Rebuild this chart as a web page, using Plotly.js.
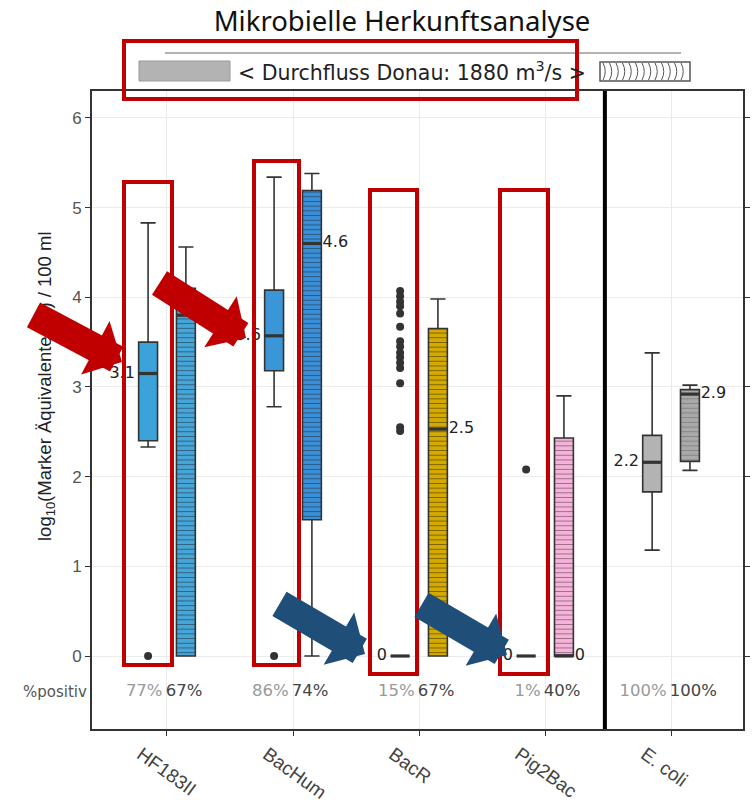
<!DOCTYPE html>
<html><head><meta charset="utf-8">
<script src="https://cdn.plot.ly/plotly-3.0.1.min.js"></script>
<style>html,body{margin:0;padding:0;background:#fff}</style>
</head><body>
<div id="chart" style="width:756px;height:804px"></div>
<script>
// ---------- data ----------
const categories = ['HF183II', 'BacHum', 'BacR', 'Pig2Bac', 'E. coli'];

// left series (solid boxes)
const lowL  = [2.33, 2.78, 0, 0, 1.18];
const q1L   = [2.40, 3.18, 0, 0, 1.83];
const medL  = [3.15, 3.57, 0, 0, 2.16];
const q3L   = [3.50, 4.08, 0, 0, 2.46];
const highL = [4.83, 5.34, 0, 0, 3.38];
const medLabelL = ['3.1', '3.6', '0', '0', '2.2'];
const pctL = ['77%', '86%', '15%', '1%', '100%'];
const colorL = ['#3ba3d9', '#3a96d6', '#d4aa00', '#f2a7d0', '#b3b3b3'];

// right series (patterned boxes)
const lowR  = [0, 0, 0, 0, 2.07];
const q1R   = [0, 1.52, 0, 0, 2.17];
const medR  = [3.80, 4.60, 2.53, 0, 2.92];
const q3R   = [4.10, 5.19, 3.65, 2.43, 2.97];
const highR = [4.56, 5.38, 3.98, 2.90, 3.02];
const medLabelR = ['3.8', '4.6', '2.5', '0', '2.9'];
const pctR = ['67%', '74%', '67%', '40%', '100%'];
const colorR = ['#46a6d8', '#3a8fd8', '#d4aa00', '#f4b3d8', '#a9a9a9'];
const patternFg = ['#1e2f3f', '#1e2f3f', '#3a3000', '#5a3a4a', '#6a6a6a'];

// outliers of the left series
const outlierCat = [0, 1, 2, 2, 2, 2, 2, 2, 2, 2, 2, 2, 2, 2, 2, 2, 2, 3];
const outlierVal = [0, 0, 4.07, 4.01, 3.95, 3.90, 3.82, 3.67, 3.51, 3.45, 3.38, 3.33, 3.27, 3.21, 3.04, 2.55, 2.51, 2.08];

const titleText = 'Mikrobielle Herkunftsanalyse';
const legendText = '&lt; Durchfluss Donau: 1880 m<sup>3</sup>/s &gt;';
const yTitle = 'log<sub>10</sub>(Marker Äquivalente (1)) / 100 ml';
const pctRowLabel = '%positiv';
const pctRowY = -0.4;

// ---------- layout helpers ----------
const OFF = 0.15, BW = 0.15;
const idx = categories.map((c, i) => i);
const posL = idx.map(i => i - OFF);
const posR = idx.map(i => i + OFF);
const PL = 92, PR = 743, PT = 91, PB = 729;
const px = v => (v - PL) / (PR - PL);
const py = v => (PB - v) / (PB - PT);
const FONT = 'DejaVu Sans';

const traces = [];
// pattern fill of right boxes
idx.forEach(i => {
  traces.push({
    type: 'bar', x: [posR[i]], base: [q1R[i]], y: [q3R[i] - q1R[i]], width: BW,
    marker: { color: colorR[i], line: { width: 0 },
      pattern: { shape: '-', fillmode: 'overlay', fgcolor: patternFg[i], fgopacity: 0.6, size: 4.7, solidity: 0.2 } },
    hoverinfo: 'skip', showlegend: false
  });
});
// left boxes (one trace per category for individual fill colours)
idx.forEach(i => {
  traces.push({
    type: 'box', x: [posL[i]], q1: [q1L[i]], median: [medL[i]], q3: [q3L[i]],
    lowerfence: [lowL[i]], upperfence: [highL[i]], width: BW, whiskerwidth: 0.8,
    fillcolor: colorL[i], line: { color: '#333', width: 1.6 }, boxpoints: false,
    showlegend: false, hoverinfo: 'skip'
  });
});
// right boxes (outline, whiskers, median)
traces.push({
  type: 'box', x: posR, q1: q1R, median: medR, q3: q3R, lowerfence: lowR, upperfence: highR,
  width: BW, whiskerwidth: 0.8, fillcolor: 'rgba(0,0,0,0)', line: { color: '#333', width: 1.6 },
  boxpoints: false, showlegend: false, hoverinfo: 'skip'
});
// bold median bars
const mx = [], my = [];
idx.forEach(i => {
  mx.push(posL[i] - BW / 2, posL[i] + BW / 2, null, posR[i] - BW / 2, posR[i] + BW / 2, null);
  my.push(medL[i], medL[i], null, medR[i], medR[i], null);
});
traces.push({ type: 'scatter', mode: 'lines', x: mx, y: my, line: { color: '#333', width: 3.2 },
  showlegend: false, hoverinfo: 'skip' });
// outliers
traces.push({
  type: 'scatter', mode: 'markers', x: outlierCat.map(i => i - OFF), y: outlierVal,
  marker: { size: 8, color: '#333' }, showlegend: false, hoverinfo: 'skip'
});
// median labels
traces.push({
  type: 'scatter', mode: 'text', x: posL.map(v => v - BW / 2 - 0.03), y: medL, text: medLabelL,
  textposition: 'middle left', textfont: { family: FONT, size: 16, color: '#222' },
  showlegend: false, hoverinfo: 'skip', cliponaxis: false
});
traces.push({
  type: 'scatter', mode: 'text', x: posR.map(v => v + BW / 2 + 0.01), y: medR, text: medLabelR,
  textposition: 'middle right', textfont: { family: FONT, size: 16, color: '#222' },
  showlegend: false, hoverinfo: 'skip', cliponaxis: false
});
// percent positive row
traces.push({
  type: 'scatter', mode: 'text', x: idx.map(i => i - 0.035), y: idx.map(() => pctRowY), text: pctL,
  textposition: 'middle left', textfont: { family: FONT, size: 16.5, color: '#9a9a9a' },
  showlegend: false, hoverinfo: 'skip'
});
traces.push({
  type: 'scatter', mode: 'text', x: idx.map(i => i - 0.01), y: idx.map(() => pctRowY), text: pctR,
  textposition: 'middle right', textfont: { family: FONT, size: 16.5, color: '#444' },
  showlegend: false, hoverinfo: 'skip'
});

// ---------- shapes ----------
const RED = '#c00000', BLUE = '#1f4e79';
const redRect = (x0, y0, x1, y1) => ({
  type: 'rect', xref: 'paper', yref: 'paper', layer: 'above',
  x0: px(x0), x1: px(x1), y0: py(y1), y1: py(y0), line: { color: RED, width: 4 }, fillcolor: 'rgba(0,0,0,0)'
});
let arcs = '';
for (let k = 0; k < 13; k++) {
  const x = 603 + k * 6.5;
  arcs += `M${px(x)},${py(63)} Q${px(x + 4.5)},${py(71.5)} ${px(x)},${py(80)} `;
}
const shapes = [
  { type: 'line', xref: 'x', yref: 'paper', x0: 3.475, x1: 3.475, y0: 0, y1: 1, line: { color: '#000', width: 4 }, layer: 'above' },
  // legend
  { type: 'line', xref: 'paper', yref: 'paper', x0: px(165), x1: px(681), y0: py(53), y1: py(53), line: { color: '#666', width: 1 } },
  { type: 'rect', xref: 'paper', yref: 'paper', x0: px(139), x1: px(230), y0: py(81), y1: py(61), fillcolor: '#b3b3b3', line: { color: '#9a9a9a', width: 1 } },
  { type: 'rect', xref: 'paper', yref: 'paper', x0: px(600), x1: px(690), y0: py(81), y1: py(62), fillcolor: '#fff', line: { color: '#555', width: 1.5 } },
  { type: 'path', xref: 'paper', yref: 'paper', path: arcs, line: { color: '#555', width: 1 } },
  // red highlight frames
  redRect(124, 41, 577, 99),
  redRect(124, 182, 172, 665),
  redRect(254, 161, 299, 665),
  redRect(370, 190, 417, 674),
  redRect(500, 190, 548, 674)
];

// ---------- annotations ----------
const arrow = (tailX, tailY, tipX, tipY, color) => ({
  xref: 'paper', yref: 'paper', x: px(tipX), y: py(tipY), ax: tailX - tipX, ay: tailY - tipY,
  axref: 'pixel', ayref: 'pixel', text: '', showarrow: true, arrowhead: 1,
  arrowwidth: 28, arrowsize: 0.36, arrowcolor: color, standoff: 0, startstandoff: 0
});
const annotations = [
  { xref: 'paper', yref: 'paper', x: px(236), y: py(71), xanchor: 'left', yanchor: 'middle',
    text: legendText, showarrow: false, font: { family: FONT, size: 20.5, color: '#222' } },
  { xref: 'paper', yref: 'y', x: 0, y: pctRowY, xanchor: 'right', yanchor: 'middle', xshift: -3,
    text: pctRowLabel, showarrow: false, font: { family: FONT, size: 15, color: '#555' } },
  { xref: 'paper', yref: 'paper', x: px(46), y: py(386), xanchor: 'center', yanchor: 'middle',
    textangle: -90, text: yTitle, showarrow: false, font: { family: 'Liberation Sans', size: 18.5, color: '#222' } },
  arrow(32, 314, 122, 362, RED),
  arrow(158, 282, 246, 338, RED),
  arrow(278, 603, 365, 654, BLUE),
  arrow(420, 604, 507, 655, BLUE)
];

const layout = {
  width: 756, height: 804,
  margin: { l: PL, r: 756 - PR, t: PT, b: 804 - PB },
  paper_bgcolor: '#fff', plot_bgcolor: '#fff',
  boxmode: 'overlay', barmode: 'overlay', showlegend: false,
  title: { text: titleText, x: 402 / 756, xanchor: 'center', xref: 'container', yref: 'container',
    y: 1 - 21 / 804, yanchor: 'middle', font: { family: 'Noto Sans', size: 27.5, color: '#111' } },
  xaxis: {
    range: [-0.595, 4.571], tickvals: idx, ticktext: categories, tickangle: 36,
    ticks: 'outside', ticklen: 5, tickcolor: '#333', showline: true, mirror: true,
    linecolor: '#333', linewidth: 2, showgrid: true, gridcolor: '#ebebeb', zeroline: false,
    ticklabelshift: -26,
    tickfont: { family: 'Liberation Sans', size: 19, color: '#444' }
  },
  yaxis: {
    range: [-0.814, 6.30], tickvals: [0, 1, 2, 3, 4, 5, 6], ticks: 'outside', ticklen: 5,
    tickcolor: '#333', showline: true, mirror: 'ticks', linecolor: '#333', linewidth: 2,
    showgrid: true, gridcolor: '#ebebeb', zeroline: false,
    tickfont: { family: 'Liberation Sans', size: 17, color: '#555' }
  },
  shapes: shapes,
  annotations: annotations
};

Plotly.newPlot('chart', traces, layout, { displayModeBar: false, staticPlot: true });
</script>
</body></html>
